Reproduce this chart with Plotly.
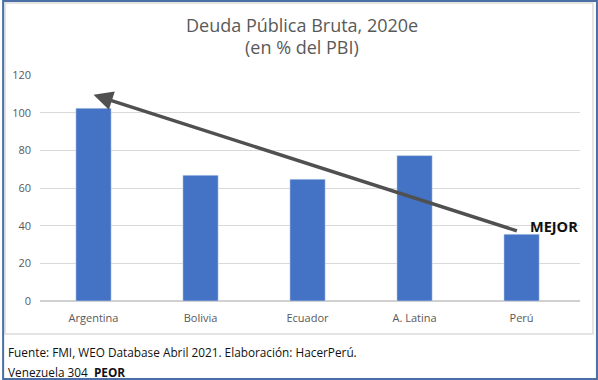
import plotly.graph_objects as go

categories = ["Argentina", "Bolivia", "Ecuador", "A. Latina", "Perú"]
deuda = [102.4, 66.8, 64.7, 77.2, 35.5]
y_ticks = [0, 20, 40, 60, 80, 100, 120]

fig = go.Figure()
fig.add_trace(go.Bar(x=categories, y=deuda, marker_color="#4472C4", width=0.33))

# plot area: x 38..580, y 75..301
fig.update_layout(
    width=598, height=380,
    margin=dict(l=38, r=18, t=75, b=79),
    paper_bgcolor="white", plot_bgcolor="white",
    showlegend=False,
    font=dict(family="Open Sans, Liberation Sans, sans-serif", color="#595959", size=11),
)
fig.update_yaxes(range=[0, 120], tickvals=y_ticks, showgrid=True, gridcolor="#d9d9d9",
                 zeroline=True, zerolinecolor="#d0d0d0", showline=False, ticks="",
                 tickfont=dict(size=11, color="#595959"), ticklabelstandoff=8)
fig.update_xaxes(showline=False, ticks="", tickfont=dict(size=11, color="#595959"),
                 ticklabelstandoff=9)

# Title lines
fig.add_annotation(xref="paper", yref="paper", x=0.485, y=1.221, text="Deuda Pública Bruta, 2020e",
                   showarrow=False, xanchor="center", yanchor="middle",
                   font=dict(size=18, color="#595959"))
fig.add_annotation(xref="paper", yref="paper", x=0.485, y=1.124, text="(en % del PBI)",
                   showarrow=False, xanchor="center", yanchor="middle",
                   font=dict(size=18, color="#595959"))

# Arrow from Perú to Argentina
fig.add_annotation(x=0, y=109.5, ax=3.97, ay=37, xref="x", yref="y", axref="x", ayref="y",
                   showarrow=True, arrowhead=2, arrowsize=1.1, arrowwidth=3.5,
                   arrowcolor="#505050", text="")
fig.add_annotation(x=4.06, y=39.8, xref="x", yref="y", text="<b>MEJOR</b>", showarrow=False,
                   xanchor="left", yanchor="middle",
                   font=dict(size=14.5, color="#111111", family="Open Sans, sans-serif"))

# Inner chart border and outer border
fig.add_shape(type="rect", xref="paper", yref="paper", x0=-0.0646, x1=1.024, y0=-0.146, y1=1.319,
              line=dict(color="#dcdcdc", width=1.5), fillcolor="rgba(0,0,0,0)", layer="below")
fig.add_shape(type="rect", xref="paper", yref="paper", x0=-0.0683, x1=1.0314, y0=-0.345, y1=1.327,
              line=dict(color="#4a6fa5", width=2), fillcolor="rgba(0,0,0,0)")

fig.add_annotation(xref="paper", yref="paper", x=-0.063, y=-0.226, xanchor="left", yanchor="middle",
                   text="Fuente: FMI, WEO Database Abril 2021. Elaboración: HacerPerú.",
                   showarrow=False, font=dict(size=11.8, color="#111111"))
fig.add_annotation(xref="paper", yref="paper", x=-0.063, y=-0.314, xanchor="left", yanchor="middle",
                   text="Venezuela 304  <b>PEOR</b>",
                   showarrow=False, font=dict(size=11.8, color="#111111"))

fig.write_html("out.html", config={"displayModeBar": False},
               post_script="document.body.style.margin='0';document.body.style.overflow='hidden';")
